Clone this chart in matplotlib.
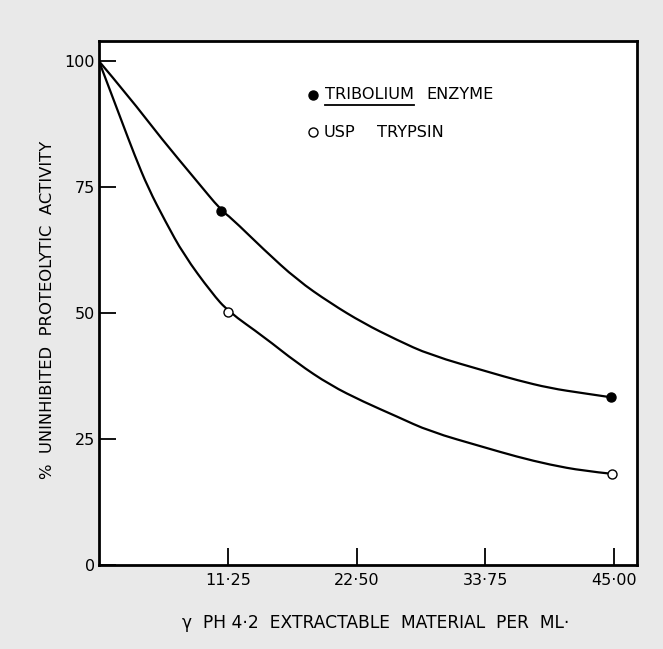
import matplotlib

matplotlib.use("Agg")
import matplotlib.pyplot as plt
from matplotlib.patches import PathPatch
from matplotlib.path import Path

tribolium_curve_x = [0, 2.6, 5.5, 8.4, 10.7, 11.5, 14.4, 17.3, 20.2, 23.1, 26.0, 28.9, 34.2, 36.5, 39.4, 42.3, 44.7]
tribolium_curve_y = [100, 93.0, 84.5, 76.6, 70.3, 69.0, 62.6, 56.6, 52.0, 48.0, 44.7, 41.7, 38.2, 36.7, 35.1, 34.1, 33.3]
trypsin_curve_x = [0, 1.0, 2.0, 3.1, 4.3, 5.8, 7.4, 9.85, 11.3, 14.4, 17.3, 20.2, 23.1, 26.0, 28.9, 33.6, 36.5, 39.4, 42.3, 44.8]
trypsin_curve_y = [100, 94.0, 88.0, 81.4, 74.8, 68.2, 61.6, 54.0, 50.3, 45.3, 40.1, 35.7, 32.4, 29.5, 26.5, 23.4, 21.5, 19.9, 18.7, 18.1]

# measured points
tribolium_x = [10.7, 44.7]
tribolium_y = [70.3, 33.3]
trypsin_x = [11.3, 44.8]
trypsin_y = [50.3, 18.1]

x_ticks = [11.25, 22.50, 33.75, 45.00]
x_tick_labels = ["11·25", "22·50", "33·75", "45·00"]
y_ticks = [0, 25, 50, 75, 100]
y_tick_labels = ["0", "25", "50", "75", "100"]


def smooth_path(xs, ys):
    # quadratic bezier through the midpoints, read points act as control points
    pts = list(zip(xs, ys))
    verts = [pts[0]]
    codes = [Path.MOVETO]
    for i in range(1, len(pts) - 1):
        mid = ((pts[i][0] + pts[i + 1][0]) / 2, (pts[i][1] + pts[i + 1][1]) / 2)
        if i == len(pts) - 2:
            mid = pts[-1]
        verts += [pts[i], mid]
        codes += [Path.CURVE3, Path.CURVE3]
    return Path(verts, codes)


plt.rcParams["font.family"] = ["DejaVu Sans"]

fig = plt.figure(figsize=(6.63, 6.49), dpi=100)
fig.patch.set_facecolor("#e9e9e9")
ax = fig.add_axes([0.1493, 0.1294, 0.8115, 0.8074])
ax.set_facecolor("white")

for cx, cy in [(tribolium_curve_x, tribolium_curve_y), (trypsin_curve_x, trypsin_curve_y)]:
    ax.add_patch(PathPatch(smooth_path(cx, cy), facecolor="none", edgecolor="black",
                           linewidth=1.6, capstyle="round"))

ax.plot(tribolium_x, tribolium_y, "o", color="black", markersize=6.5, zorder=3)
ax.plot(trypsin_x, trypsin_y, "o", markerfacecolor="white", markeredgecolor="black",
        markeredgewidth=1.0, markersize=6.5, zorder=3)

ax.set_xlim(0, 47.0)
ax.set_ylim(0, 104)
ax.set_xticks(x_ticks)
ax.set_xticklabels(x_tick_labels)
ax.set_yticks(y_ticks)
ax.set_yticklabels(y_tick_labels)
ax.tick_params(axis="both", direction="in", length=12, width=1.3, labelsize=11.5, colors="black")
ax.tick_params(axis="x", pad=6)
ax.tick_params(axis="y", pad=3)
for spine in ax.spines.values():
    spine.set_linewidth(2.0)

ax.set_xlabel("γ  PH 4·2  EXTRACTABLE  MATERIAL  PER  ML·", fontsize=12.3)
ax.set_ylabel("%  UNINHIBITED  PROTEOLYTIC  ACTIVITY", fontsize=11.8)
ax.xaxis.set_label_coords(0.515, -0.093)
ax.yaxis.set_label_coords(-0.081, 0.487)

# legend drawn by hand, like the original lettering
ax.plot([0.397], [0.897], "o", color="black", markersize=6.5, transform=ax.transAxes, clip_on=False)
ax.plot([0.397], [0.826], "o", markerfacecolor="white", markeredgecolor="black",
        markeredgewidth=1.0, markersize=6.5, transform=ax.transAxes, clip_on=False)
t1 = ax.text(0.420, 0.897, "TRIBOLIUM", fontsize=11.6, va="center", ha="left", transform=ax.transAxes)
ax.text(0.609, 0.897, "ENZYME", fontsize=11.6, va="center", ha="left", transform=ax.transAxes)
ax.text(0.418, 0.826, "USP", fontsize=11.6, va="center", ha="left", transform=ax.transAxes)
ax.text(0.516, 0.826, "TRYPSIN", fontsize=11.6, va="center", ha="left", transform=ax.transAxes)

fig.canvas.draw()
bb = t1.get_window_extent().transformed(ax.transAxes.inverted())
ax.plot([bb.x0, bb.x1], [bb.y0 - 0.004, bb.y0 - 0.004], color="black", linewidth=1.3,
        transform=ax.transAxes, clip_on=False)

fig.savefig("out.png", dpi=100, facecolor=fig.get_facecolor())
